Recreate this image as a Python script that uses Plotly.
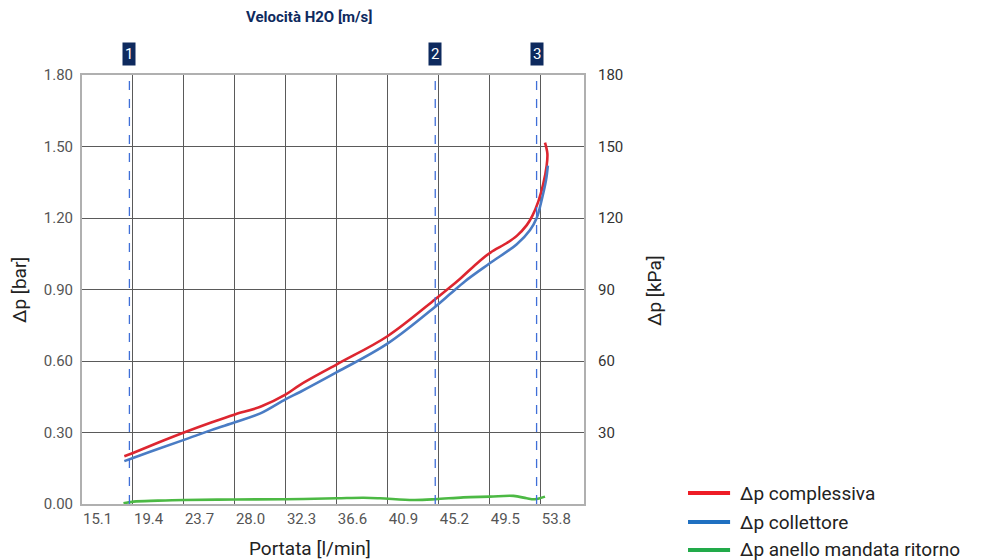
import plotly.graph_objects as go

# ---- data ----
x_ticks = [15.1, 19.4, 23.7, 28.0, 32.3, 36.6, 40.9, 45.2, 49.5, 53.8]
y_ticks_bar = [0.0, 0.30, 0.60, 0.90, 1.20, 1.50, 1.80]
y_ticks_kpa = [30, 60, 90, 120, 150, 180]

red_x = [18.67, 19.4, 21.5, 23.7, 26.0, 28.0, 30.15, 32.3, 33.5, 36.6, 40.9, 44.9, 46.17,
         47.0, 48.7, 49.56, 50.94, 51.78, 52.62, 53.1, 53.6, 54.0, 54.3, 54.36, 54.16]
red_y = [0.20, 0.214, 0.257, 0.30, 0.342, 0.376, 0.408, 0.46, 0.50, 0.586, 0.705, 0.859, 0.91,
         0.945, 1.022, 1.055, 1.095, 1.125, 1.17, 1.21, 1.27, 1.34, 1.42, 1.47, 1.516]

blue_x = [18.67, 19.4, 21.5, 23.7, 26.0, 28.0, 30.15, 32.3, 33.5, 36.6, 40.9, 44.9, 46.17,
          47.42, 49.5, 51.78, 52.9, 53.46, 53.9, 54.25, 54.4]
blue_y = [0.18, 0.193, 0.231, 0.269, 0.31, 0.343, 0.38, 0.44, 0.47, 0.553, 0.674, 0.828, 0.882,
          0.935, 1.01, 1.09, 1.15, 1.20, 1.28, 1.36, 1.42]

green_x = [18.6, 19.45, 21.5, 23.7, 28.0, 32.3, 36.6, 38.85, 40.24, 43.06, 44.9, 47.27,
           49.5, 51.5, 52.62, 53.3, 54.16]
green_y = [0.003, 0.01, 0.014, 0.017, 0.019, 0.02, 0.024, 0.026, 0.024, 0.017, 0.02, 0.028,
           0.031, 0.034, 0.024, 0.02, 0.031]

series_names = ["Δp complessiva", "Δp collettore", "Δp anello mandata ritorno"]
line_colors = ["#dd2630", "#4a7cc4", "#4cb944"]
legend_colors = ["#ee1c25", "#1f70c1", "#22aa4a"]

marker_x = [19.1, 44.9, 53.45]
marker_labels = ["1", "2", "3"]

NAVY = "#0e2a5e"
FONT = "Roboto"

fig = go.Figure()
for xs, ys, name, col in zip([red_x, blue_x, green_x], [red_y, blue_y, green_y],
                             series_names, line_colors):
    fig.add_trace(go.Scatter(x=xs, y=ys, mode="lines", name=name,
                             line=dict(color=col, width=2.6, shape="spline", smoothing=1.0),
                             showlegend=False, hoverinfo="skip"))

# invisible trace on secondary axis so it renders
fig.add_trace(go.Scatter(x=[x_ticks[0]], y=[0], yaxis="y2", mode="markers",
                         marker=dict(opacity=0), showlegend=False, hoverinfo="skip"))

shapes = []
annotations = []
for xv, lab in zip(marker_x, marker_labels):
    shapes.append(dict(type="line", xref="x", yref="paper", x0=xv, x1=xv, y0=0, y1=0.99,
                       line=dict(color="#3f6fd8", width=1.3, dash="dash")))
    annotations.append(dict(x=xv, y=1.048, xref="x", yref="paper", text=lab, showarrow=False,
                            font=dict(family=FONT, size=15, color="white"),
                            bgcolor=NAVY, borderpad=2, xanchor="center", yanchor="middle"))

annotations.append(dict(x=0.452, y=1.135, xref="paper", yref="paper",
                        text="<b>Velocità H2O [m/s]</b>", showarrow=False,
                        font=dict(family=FONT, size=15, color=NAVY),
                        xanchor="center", yanchor="middle"))
annotations.append(dict(x=-0.1235, y=0.499, xref="paper", yref="paper", text="Δp [bar]",
                        textangle=-90, showarrow=False,
                        font=dict(family=FONT, size=19, color="#222"),
                        xanchor="center", yanchor="middle"))
annotations.append(dict(x=1.1414, y=0.499, xref="paper", yref="paper", text="Δp [kPa]",
                        textangle=-90, showarrow=False,
                        font=dict(family=FONT, size=19, color="#222"),
                        xanchor="center", yanchor="middle"))
annotations.append(dict(x=0.454, y=-0.1026, xref="paper", yref="paper", text="Portata [l/min]",
                        showarrow=False, font=dict(family=FONT, size=19, color="#222"),
                        xanchor="center", yanchor="middle"))

# manual legend
leg_y = [0.0256, -0.042, -0.107]
for yy, name, col in zip(leg_y, series_names, legend_colors):
    shapes.append(dict(type="line", xref="paper", yref="paper", x0=1.2072, x1=1.291,
                       y0=yy, y1=yy, line=dict(color=col, width=4)))
    annotations.append(dict(x=1.3068, y=yy, xref="paper", yref="paper", text=name,
                            showarrow=False, font=dict(family=FONT, size=19, color="#222"),
                            xanchor="left", yanchor="middle"))

fig.update_layout(
    width=986, height=560,
    margin=dict(l=82, r=402, t=75, b=56),
    paper_bgcolor="white", plot_bgcolor="white",
    font=dict(family=FONT, size=14, color="#555"),
    showlegend=False,
    xaxis=dict(range=[15.1, 57.45], tickvals=x_ticks, ticktext=[f"{v:.1f}" for v in x_ticks],
               ticklabelposition="outside right", showgrid=True, gridcolor="#5a5a5a", gridwidth=1,
               showline=True, linecolor="#b0b0b0", linewidth=2, mirror=True, zeroline=False,
               ticks="", tickfont=dict(family=FONT, size=15, color="#555")),
    yaxis=dict(range=[0, 1.8], tickvals=y_ticks_bar, ticktext=[f"{v:.2f}" for v in y_ticks_bar],
               showgrid=True, gridcolor="#5a5a5a", gridwidth=1, zeroline=False,
               showline=True, linecolor="#b0b0b0", linewidth=2, mirror=True,
               ticks="outside", ticklen=4, tickcolor="rgba(0,0,0,0)",
               tickfont=dict(family=FONT, size=15, color="#555")),
    yaxis2=dict(range=[0, 180], overlaying="y", side="right", tickvals=y_ticks_kpa,
                ticktext=[str(v) for v in y_ticks_kpa], showgrid=False, zeroline=False,
                ticks="outside", ticklen=10, tickcolor="rgba(0,0,0,0)",
                tickfont=dict(family=FONT, size=15, color="#333")),
    shapes=shapes, annotations=annotations,
)

fig.write_html("out.html", config={"displayModeBar": False},
               post_script="document.body.style.margin='0';")
